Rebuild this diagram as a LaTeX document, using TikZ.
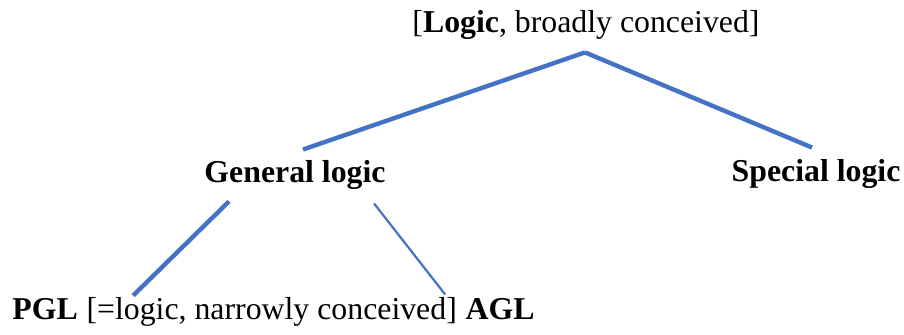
\documentclass[tikz,border=0pt]{standalone}
\usepackage{fontspec}
\setmainfont{Liberation Serif}
\usetikzlibrary{calc}
\definecolor{branch}{HTML}{4472C4}

\begin{document}
\begin{tikzpicture}[
  x=0.5pt, y=-0.5pt,
  term/.style={inner sep=0pt, anchor=base, font=\fontsize{15.9}{19}\selectfont},
  head/.style={term, font=\fontsize{15.9}{19}\selectfont\bfseries},
  link/.style={draw=branch, line width=2.2pt},
  thinlink/.style={draw=branch, line width=1.1pt}
]
  \useasboundingbox (0,0) rectangle (904,335);

  % top of the tree
  \node[term] (logic) at (586,33) {[\textbf{Logic}, broadly conceived]};

  \node[head] (general) at (295,183) {General logic};
  \node[head] (special) at (816,182) {Special logic};

  \draw[link] ($(logic.south)+(-1,12)$) -- ($(general.north)+(8,-11)$);
  \draw[link] ($(logic.south)+(-1,12)$) -- ($(special.north)+(-4,-12)$);

  % bottom row
  \node[head, anchor=base west] (pgl) at (12,320) {PGL};
  \node[term, anchor=base west] (narrow) at ([xshift=4pt]pgl.base east) {[=logic, narrowly conceived]};
  \node[head, anchor=base west] (agl) at ([xshift=4pt]narrow.base east) {AGL};

  \draw[link] ($(general.south)+(-66,11)$) -- ($(narrow.north west)+(47,-2)$);
  \draw[thinlink] ($(general.south)+(79,13)$) -- ($(agl.north west)+(-20,-4)$);
\end{tikzpicture}
\end{document}
